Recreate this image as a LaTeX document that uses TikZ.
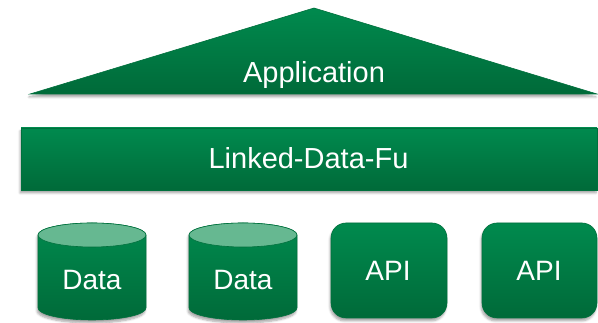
\documentclass[tikz,border=0pt]{standalone}
\usepackage{fontspec}
\setmainfont{Liberation Sans}
\usetikzlibrary{shadows.blur}
\definecolor{gtop}{HTML}{008A4E}
\definecolor{gbot}{HTML}{006A39}
\definecolor{gedge}{HTML}{00703D}
\definecolor{glight}{HTML}{66B891}
\tikzset{
  greenfill/.style={top color=gtop, bottom color=gbot, draw=gedge, line width=0.6pt,
    blur shadow={shadow xshift=-1pt, shadow yshift=-3pt, shadow blur steps=6, shadow opacity=35}},
  lbl/.style={text=white, font=\fontsize{29}{34}\selectfont, inner sep=0pt, anchor=base},
  slbl/.style={lbl, font=\fontsize{28}{33}\selectfont}
}
\begin{document}
\begin{tikzpicture}[x=1pt,y=1pt]
\useasboundingbox (0,0) rectangle (598,323);
% Application triangle
\path[greenfill] (30,229) -- (314,315) -- (597,229) -- cycle;
\node[lbl] (app) at (314,240) {Application};
% Linked-Data-Fu bar
\path[greenfill] (21,133) rectangle (597,195);
\node[lbl] (ldf) at (308.5,154) {Linked-Data-Fu};
% Cylinders
\foreach \cx/\nm in {92/d1, 243/d2}{
  \path[greenfill] (\cx-54,88) -- (\cx-54,15) arc[start angle=180, end angle=360, x radius=54, y radius=12]
     -- (\cx+54,88) arc[start angle=0, end angle=180, x radius=54, y radius=12] -- cycle;
  \path[fill=glight, draw=gedge, line width=0.6pt] (\cx,88) ellipse[x radius=54, y radius=12];
  \node[slbl] (\nm) at (\cx,33) {Data};
}
% API boxes
\path[greenfill, rounded corners=15pt] (331,5) rectangle (447,100);
\node[slbl] (api1) at (388,42) {API};
\path[greenfill, rounded corners=15pt] (482,5) rectangle (597,100);
\node[slbl] (api2) at (539,42) {API};
\end{tikzpicture}
\end{document}
